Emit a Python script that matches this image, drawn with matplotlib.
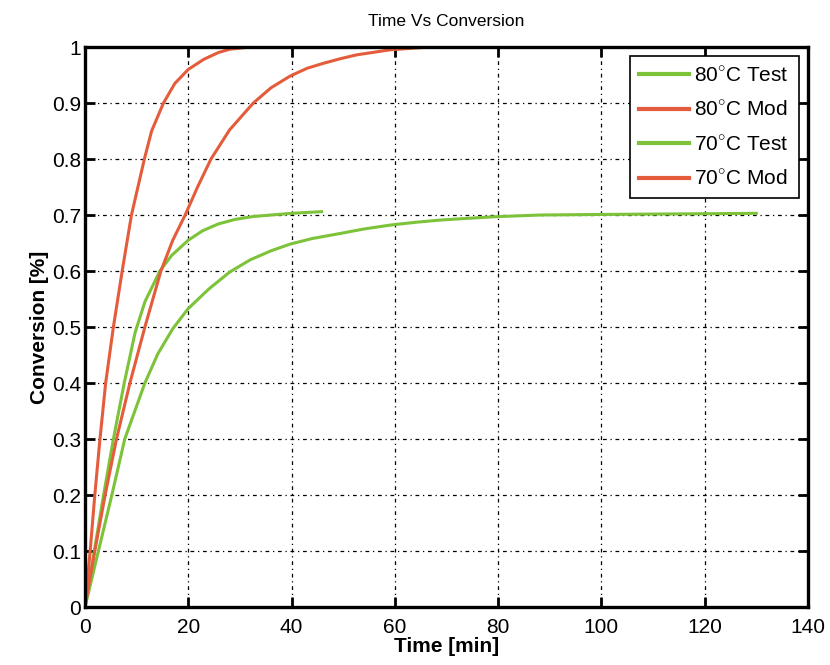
import matplotlib.pyplot as plt

plt.rcParams['font.family'] = ['Liberation Sans', 'DejaVu Sans']
plt.rcParams['mathtext.fontset'] = 'custom'
plt.rcParams['mathtext.rm'] = 'Liberation Sans'

# values
t_80_test = [0, 1.8, 3.6, 5.5, 7.6, 9.7, 11.6, 14.5, 16.8, 20, 22.8, 25.8, 29, 32.3, 36, 40, 45.8]
c_80_test = [0, 0.10, 0.20, 0.30, 0.40, 0.49, 0.545, 0.60, 0.628, 0.655, 0.672, 0.684, 0.692, 0.697, 0.700, 0.703, 0.706]

t_80_mod = [0, 1.0, 1.9, 2.9, 4.0, 5.5, 7.2, 9.0, 11.5, 12.9, 15.2, 17.4, 20, 23, 25.8, 28, 32, 41]
c_80_mod = [0, 0.10, 0.20, 0.30, 0.40, 0.50, 0.60, 0.70, 0.80, 0.85, 0.90, 0.935, 0.960, 0.978, 0.990, 0.996, 1.0, 1.0]

t_70_test = [0, 2.6, 5.2, 7.7, 11.6, 14.1, 17, 20, 24, 28, 32, 36, 39.7, 44, 49.4, 54, 59.1, 64, 68.8, 74,
             79.6, 88.1, 100, 115, 130]
c_70_test = [0, 0.10, 0.20, 0.30, 0.40, 0.452, 0.497, 0.533, 0.568, 0.598, 0.620, 0.636, 0.648, 0.658, 0.667,
             0.675, 0.682, 0.687, 0.691, 0.694, 0.697, 0.700, 0.701, 0.702, 0.703]

t_70_mod = [0, 1.9, 3.9, 6.1, 8.7, 11.6, 14.7, 17, 19.4, 21.8, 24.4, 28, 32.6, 36, 39.7, 43, 46.2, 49.4, 52.6,
            59.1, 66.8, 86]
c_70_mod = [0, 0.10, 0.20, 0.30, 0.40, 0.50, 0.60, 0.655, 0.70, 0.75, 0.80, 0.852, 0.90, 0.927, 0.948, 0.962,
            0.971, 0.979, 0.986, 0.995, 1.0, 1.0]

green = '#7cc33a'
red = '#e45c3c'

fig = plt.figure(figsize=(8.3, 6.65), dpi=100)
ax = fig.add_axes([0.1024, 0.0872, 0.871, 0.8421])

ax.plot(t_80_test, c_80_test, color=green, lw=2.2, label=r'80$^{\circ}$C Test')
ax.plot(t_80_mod, c_80_mod, color=red, lw=2.2, label=r'80$^{\circ}$C Mod')
ax.plot(t_70_test, c_70_test, color=green, lw=2.2, label=r'70$^{\circ}$C Test')
ax.plot(t_70_mod, c_70_mod, color=red, lw=2.2, label=r'70$^{\circ}$C Mod')

ax.set_xlim(0, 140)
ax.set_ylim(0, 1)
ax.set_xticks(range(0, 141, 20))
ax.set_yticks([i / 10 for i in range(11)])
ax.set_yticklabels(['0'] + ['0.%d' % i for i in range(1, 10)] + ['1'])

ax.grid(True, color='black', linestyle=(0, (1, 3, 3, 3)), linewidth=0.9)
ax.tick_params(direction='in', top=True, right=True, length=7, width=2, labelsize=15)
ax.tick_params(axis='x', pad=8)
ax.tick_params(axis='y', pad=3)
for s in ax.spines.values():
    s.set_linewidth(2.4)

ax.set_title('Time Vs Conversion', fontsize=12.5, pad=15)
ax.set_xlabel('Time [min]', fontsize=15, fontweight='bold', labelpad=0)
ax.set_ylabel('Conversion [%]', fontsize=15, fontweight='bold', labelpad=2)

leg = ax.legend(loc='upper right', fontsize=15, fancybox=False, framealpha=1,
                edgecolor='black', borderaxespad=0.45, handlelength=2.4, handletextpad=0.25,
                labelspacing=0.72, borderpad=0.45)
leg.get_frame().set_linewidth(1.2)
for h in leg.get_lines():
    h.set_linewidth(3)

fig.savefig('out.png', dpi=100)
